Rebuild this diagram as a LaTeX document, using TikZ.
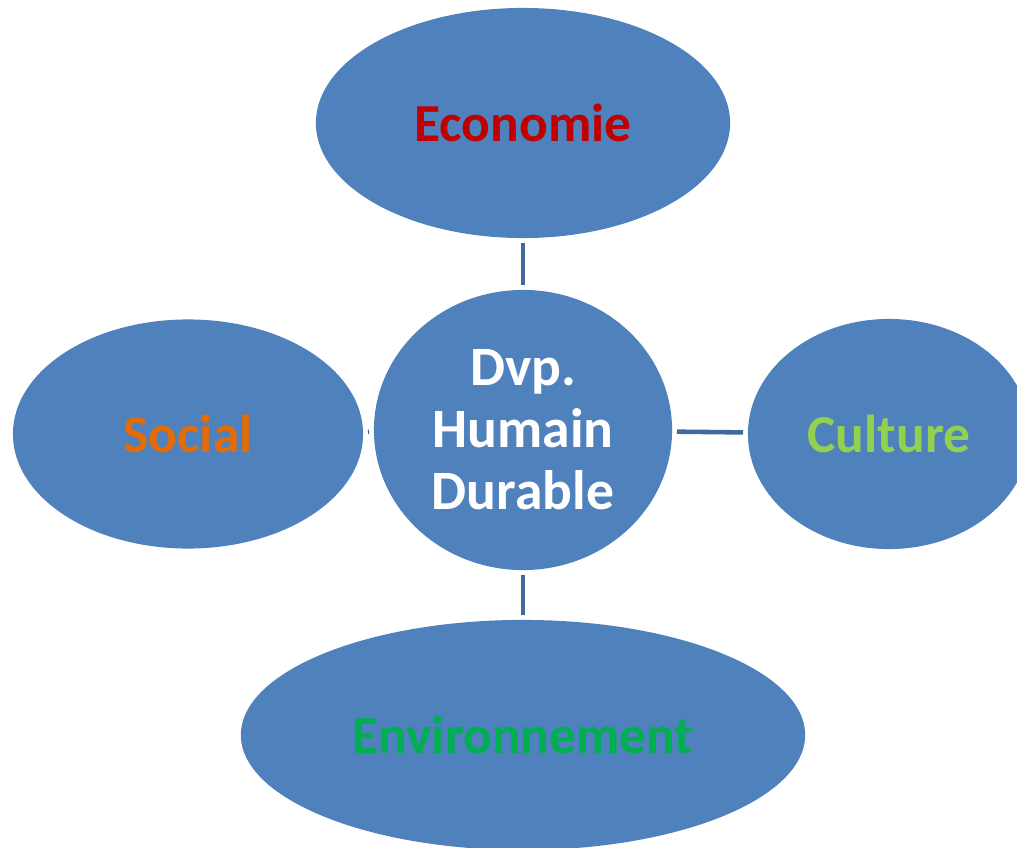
\documentclass[tikz,border=0pt]{standalone}
\usepackage{fontspec}
\setmainfont{Carlito}
\usepackage{xcolor}
\usetikzlibrary{shapes.geometric, positioning, calc}

\definecolor{bleubulle}{HTML}{4F81BD}
\definecolor{trait}{HTML}{41699A}
\definecolor{rougeeco}{HTML}{C00000}
\definecolor{orangesoc}{HTML}{E36C09}
\definecolor{vertcul}{HTML}{92D050}
\definecolor{vertenv}{HTML}{00B050}

\begin{document}
\begin{tikzpicture}[x=0.01cm, y=-0.01cm,
        bulle/.style={ellipse, fill=bleubulle, inner sep=0pt,
            font=\fontsize{15.2}{17.4}\selectfont\bfseries, align=center},
        lien/.style={draw=trait, line width=1.3pt, shorten >=1.2pt, shorten <=1.2pt}]
        \useasboundingbox (0,0) rectangle (1017,848);
        \clip (0,0) rectangle (1017,848);

        \node[bulle, minimum width=2.98cm, minimum height=2.80cm, text=white,
            font=\fontsize{15.8}{17.6}\selectfont\bfseries] (dvp) at (523,430) {Dvp.\\Humain\\Durable};

        \node[bulle, minimum width=4.14cm, minimum height=2.30cm, text=rougeeco] (eco) at (523,123) {Economie};
        \node[bulle, minimum width=3.50cm, minimum height=2.29cm, text=orangesoc] (soc) at (188,434) {Social};
        \node[bulle, minimum width=2.82cm, minimum height=2.30cm, text=vertcul] (cul) at (889,434) {Culture};
        \node[bulle, minimum width=5.64cm, minimum height=2.30cm, text=vertenv] (env) at (523,735) {Environnement};

        \draw[lien] (eco) -- (dvp);
        \draw[lien] (dvp) -- (env);
        \draw[lien] (soc) -- (dvp);
        \draw[lien] (dvp) -- (cul);
    \end{tikzpicture}
\end{document}
